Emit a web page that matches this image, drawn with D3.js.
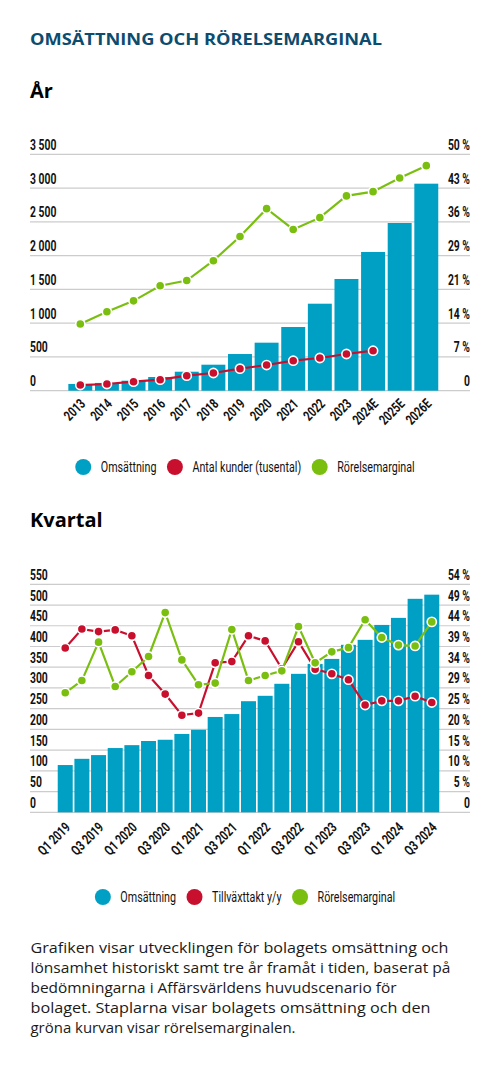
<!DOCTYPE html>
<html>
<head>
<meta charset="utf-8">
<script src="https://cdn.jsdelivr.net/npm/d3@7"></script>
<style>
  body { margin: 0; background: #fff; }
  svg text { fill: #111; }
  .cond { font-family: 'Roboto', 'DejaVu Sans Condensed', sans-serif; }
  .sans { font-family: 'Open Sans', 'Inter', sans-serif; }
</style>
</head>
<body>
<svg id="page" width="500" height="1079"></svg>
<script>
// --- year chart data ---
const years = ["2013", "2014", "2015", "2016", "2017", "2018", "2019", "2020", "2021", "2022", "2023", "2024E", "2025E", "2026E"];
const yearRevenue = [100, 115, 148, 203, 281, 385, 543, 711, 943, 1288, 1654, 2054, 2483, 3065];
const yearCustomers = [84, 99, 133, 163, 222, 262, 326, 380, 444, 484, 543, 592, null, null];
const yearMargin = [14.1, 16.7, 19.0, 22.2, 23.3, 27.5, 32.6, 38.5, 34.1, 36.6, 41.2, 42.1, 45.0, 47.6];
const yearTicksLeft = [0, 500, 1000, 1500, 2000, 2500, 3000, 3500];
const yearTickLabelsLeft = ["0", "500", "1 000", "1 500", "2 000", "2 500", "3 000", "3 500"];
const yearTickLabelsRight = ["0", "7 %", "14 %", "21 %", "29 %", "36 %", "43 %", "50 %"];
const yearLegend = ["Omsättning", "Antal kunder (tusental)", "Rörelsemarginal"];

// --- quarter chart data ---
const quarters = ["Q1 2019", "Q2 2019", "Q3 2019", "Q4 2019", "Q1 2020", "Q2 2020", "Q3 2020", "Q4 2020",
                  "Q1 2021", "Q2 2021", "Q3 2021", "Q4 2021", "Q1 2022", "Q2 2022", "Q3 2022", "Q4 2022",
                  "Q1 2023", "Q2 2023", "Q3 2023", "Q4 2023", "Q1 2024", "Q2 2024", "Q3 2024"];
const quarterRevenue = [114, 129, 138, 155, 162, 172, 175, 189, 199, 230, 237, 268, 281, 310, 334, 358, 370, 404, 416, 452, 469, 515, 525];
const quarterGrowth = [38.9, 43.4, 42.8, 43.2, 41.8, 32.4, 28.0, 23.0, 23.5, 35.4, 35.7, 41.8, 40.6, 34.0, 40.4, 33.9, 32.8, 31.4, 25.4, 26.4, 26.4, 27.5, 26.0];
const quarterMargin = [28.3, 31.2, 40.3, 29.8, 33.3, 36.9, 47.3, 36.1, 30.2, 30.6, 43.3, 31.2, 32.4, 33.5, 44.0, 35.4, 38.0, 39.0, 45.6, 41.4, 39.6, 39.4, 45.1];
const quarterTicksLeft = [0, 50, 100, 150, 200, 250, 300, 350, 400, 450, 500, 550];
const quarterTickLabelsLeft = quarterTicksLeft.map(String);
const quarterTickLabelsRight = ["0", "5 %", "10 %", "15 %", "20 %", "25 %", "29 %", "34 %", "39 %", "44 %", "49 %", "54 %"];
const quarterLegend = ["Omsättning", "Tillväxttakt y/y", "Rörelsemarginal"];

const introLines = [
  "Grafiken visar utvecklingen för bolagets omsättning och",
  "lönsamhet historiskt samt tre år framåt i tiden, baserat på",
  "bedömningarna i Affärsvärldens huvudscenario för",
  "bolaget. Staplarna visar bolagets omsättning och den",
  "gröna kurvan visar rörelsemarginalen."
];
const introWidths = [418, 420, 366, 400, 265];

const color_bar = "#00a0c4";
const color_red = "#c8102e";
const color_green = "#7abf10";

// narrow the fallback font so it reads like the condensed face of the original
const squeeze = 0.74;

const svg = d3.select("svg#page");

svg.append("text")
  .attr("class", "sans")
  .attr("x", 30).attr("y", 45)
  .attr("textLength", 352).attr("lengthAdjust", "spacingAndGlyphs")
  .style("font-size", "16.5px").style("font-weight", 700)
  .style("fill", "#0c4c6e")
  .text("OMSÄTTNING OCH RÖRELSEMARGINAL");

function heading(txt, y) {
  svg.append("text")
    .attr("class", "sans")
    .attr("x", 30).attr("y", y)
    .style("font-size", "20px").style("font-weight", 700)
    .style("fill", "#000")
    .text(txt);
}

function drawChart(cfg) {
  const g = svg.append("g");

  let x = d3.scaleBand()
            .domain(cfg.categories)
            .range(cfg.xRange)
            .paddingInner(0.1)
            .paddingOuter(0.05);

  let yLeft = d3.scaleLinear().domain(cfg.leftDomain).range(cfg.yRange);
  let yRight = d3.scaleLinear().domain(cfg.rightDomain).range(cfg.yRange);

  // grid + tick labels
  let grid = g.append("g").selectAll("g")
              .data(cfg.ticks)
              .enter().append("g")
              .attr("transform", function(d) { return "translate(0," + yLeft(d) + ")"; });

  grid.append("line")
      .attr("x1", 30).attr("x2", 470)
      .attr("stroke", "#cccccc").attr("stroke-width", 1.2);

  grid.append("text")
      .attr("class", "cond")
      .attr("transform", "translate(30,-4.5) scale(" + squeeze + ",1)")
      .style("font-size", "14px").style("font-weight", 700)
      .text(function(d, i) { return cfg.leftLabels[i]; });

  grid.append("text")
      .attr("class", "cond")
      .attr("transform", "translate(470,-4.5) scale(" + squeeze + ",1)")
      .attr("text-anchor", "end")
      .style("font-size", "14px").style("font-weight", 700)
      .text(function(d, i) { return cfg.rightLabels[i]; });

  // bars
  g.append("g").selectAll("rect")
    .data(cfg.bars)
    .enter().append("rect")
      .attr("x", function(d, i) { return x(cfg.categories[i]); })
      .attr("width", x.bandwidth())
      .attr("y", function(d) { return yLeft(d); })
      .attr("height", function(d) { return yLeft(0) - yLeft(d); })
      .attr("fill", color_bar);

  // x labels
  g.append("g").selectAll("text")
    .data(cfg.categories)
    .enter().append("text")
      .attr("class", "cond")
      .attr("text-anchor", "end")
      .attr("transform", function(d) {
        return "translate(" + (x(d) + x.bandwidth() / 2 + cfg.labelDx) + "," + (yLeft(0) + cfg.labelDy) + ") rotate(-45) scale(" + squeeze + ",1)";
      })
      .style("font-size", "14px").style("font-weight", 700)
      .text(function(d, i) { return i % cfg.labelEvery === 0 ? d : ""; });

  // lines
  cfg.lines.forEach(function(ln) {
    let scale = ln.axis === "left" ? yLeft : yRight;
    let pts = ln.values.map(function(v, i) { return { c: cfg.categories[i], v: v }; })
                       .filter(function(p) { return p.v !== null; });

    let line = d3.line()
                 .x(function(p) { return x(p.c) + x.bandwidth() / 2; })
                 .y(function(p) { return scale(p.v); });

    g.append("path")
      .datum(pts)
      .attr("d", line)
      .attr("fill", "none")
      .attr("stroke", ln.color)
      .attr("stroke-width", 2.2);

    g.append("g").selectAll("circle")
      .data(pts)
      .enter().append("circle")
        .attr("cx", function(p) { return x(p.c) + x.bandwidth() / 2; })
        .attr("cy", function(p) { return scale(p.v); })
        .attr("r", 4.6)
        .attr("fill", ln.color)
        .attr("stroke", "#fff")
        .attr("stroke-width", 1.6);
  });
}

function drawLegend(labels, y, cx) {
  const colors = [color_bar, color_red, color_green];
  const g = svg.append("g");
  let pos = 0;
  labels.forEach(function(lbl, i) {
    let item = g.append("g").attr("transform", "translate(" + pos + ",0)");
    item.append("circle").attr("cx", 8).attr("cy", 0).attr("r", 8).attr("fill", colors[i]);
    let t = item.append("text")
      .attr("class", "cond")
      .attr("transform", "translate(25.5,5) scale(" + squeeze + ",1)")
      .style("font-size", "14.5px")
      .text(lbl);
    pos += 25.5 + t.node().getComputedTextLength() * squeeze + 10.5;
  });
  let total = pos - 10.5;
  g.attr("transform", "translate(" + (cx - total / 2) + "," + y + ")");
}

heading("År", 98);

drawChart({
  categories: years,
  bars: yearRevenue,
  xRange: [67, 439.6],
  yRange: [390.7, 154.3],
  leftDomain: [0, 3500],
  rightDomain: [0, 50],
  ticks: yearTicksLeft,
  leftLabels: yearTickLabelsLeft,
  rightLabels: yearTickLabelsRight,
  labelDx: 6, labelDy: 14, labelEvery: 1,
  lines: [
    { values: yearCustomers, axis: "left", color: color_red },
    { values: yearMargin, axis: "right", color: color_green }
  ]
});

drawLegend(yearLegend, 467, 245);

heading("Kvartal", 527);

drawChart({
  categories: quarters,
  bars: quarterRevenue,
  xRange: [56.9, 440.1],
  yRange: [812.3, 584.3],
  leftDomain: [0, 550],
  rightDomain: [0, 54],
  ticks: quarterTicksLeft,
  leftLabels: quarterTickLabelsLeft,
  rightLabels: quarterTickLabelsRight,
  labelDx: 6, labelDy: 16, labelEvery: 2,
  lines: [
    { values: quarterGrowth, axis: "right", color: color_red },
    { values: quarterMargin, axis: "right", color: color_green }
  ]
});

drawLegend(quarterLegend, 897, 245);

svg.append("g").selectAll("text")
  .data(introLines)
  .enter().append("text")
    .attr("class", "sans")
    .attr("x", 30.5)
    .attr("y", function(d, i) { return 953.3 + i * 19.85; })
    .attr("textLength", function(d, i) { return introWidths[i]; })
    .attr("lengthAdjust", "spacingAndGlyphs")
    .style("font-size", "14.5px")
    .style("fill", "#1a1a1a")
    .text(function(d) { return d; });
</script>
</body>
</html>
